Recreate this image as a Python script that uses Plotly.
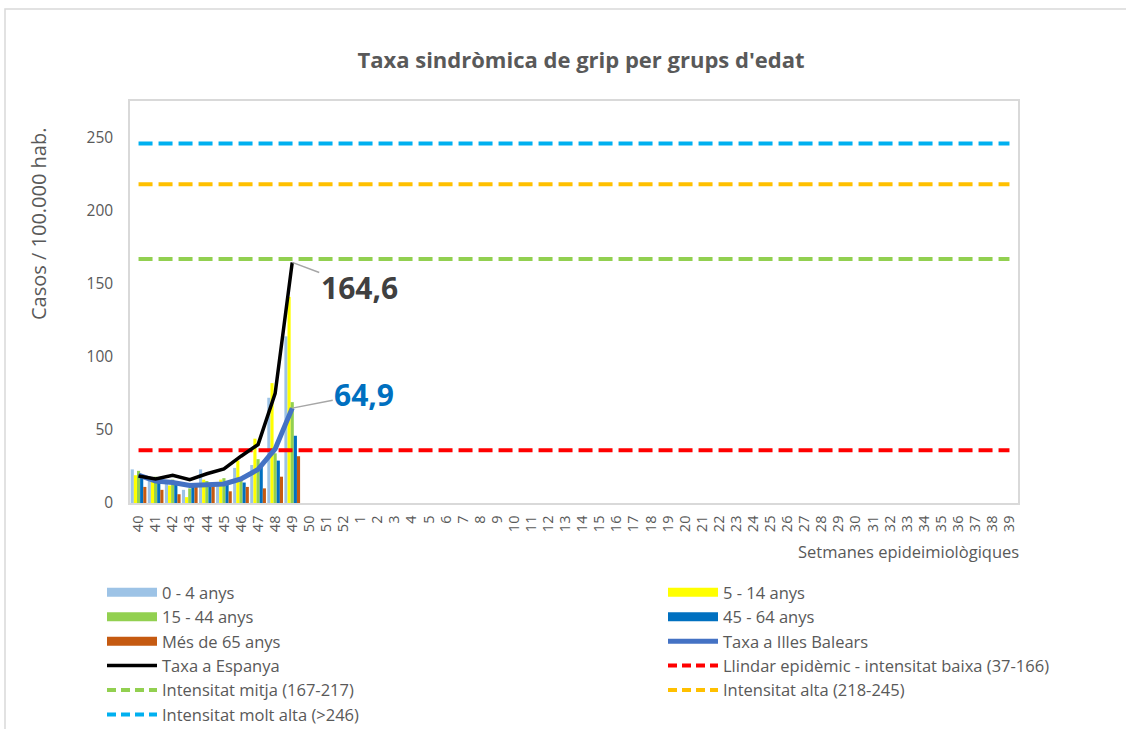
import plotly.graph_objects as go

# ---------------- data ----------------
weeks = [str(w) for w in list(range(40, 53)) + list(range(1, 40))]

age_0_4   = [23, 17, 13, 9, 23, 14, 24, 26, 72, 114]
age_5_14  = [19, 16, 12, 4, 16, 16, 29, 44, 82, 141]
age_15_44 = [22, 18, 16, 10, 15, 17, 17, 30, 34, 69]
age_45_64 = [18, 15, 14, 13, 11, 14, 14, 26, 29, 46]
age_65    = [11, 9, 6, 12, 13, 8, 11, 10, 18, 32]

taxa_balears = [19, 15, 14, 12, 12.5, 13, 16.5, 23, 37, 64.9]
taxa_espanya = [18.5, 16.5, 19, 16, 20, 23.3, 32, 40, 75, 164.6]

llindar_baixa = 36
llindar_mitja = 167
llindar_alta = 218
llindar_molt_alta = 246

bar_names = ["0 - 4 anys", "5 - 14 anys", "15 - 44 anys", "45 - 64 anys", "Més de 65 anys"]
bar_values = [age_0_4, age_5_14, age_15_44, age_45_64, age_65]
bar_colors = ["#9DC3E6", "#FFFF00", "#92D050", "#0070C0", "#C55A11"]

FONT = "Open Sans"
GRAY = "#595959"

fig = go.Figure()

n_data = len(age_0_4)
for name, vals, col in zip(bar_names, bar_values, bar_colors):
    fig.add_trace(go.Bar(x=weeks[:n_data], y=vals, name=name, marker_color=col,
                         marker_line_width=0, showlegend=False))

# threshold lines
thr = [
    (llindar_baixa, "#FF0000", "Llindar epidèmic - intensitat baixa (37-166)"),
    (llindar_mitja, "#92D050", "Intensitat mitja (167-217)"),
    (llindar_alta, "#FFC000", "Intensitat alta (218-245)"),
    (llindar_molt_alta, "#00B0F0", "Intensitat molt alta (>246)"),
]
for val, col, name in thr:
    fig.add_trace(go.Scatter(x=weeks, y=[val] * len(weeks), mode="lines", name=name,
                             line=dict(color=col, width=4, dash="14px,6px"),
                             showlegend=False))

fig.add_trace(go.Scatter(x=weeks[:n_data], y=taxa_balears, mode="lines", name="Taxa a Illes Balears",
                         line=dict(color="#4472C4", width=5), showlegend=False))
fig.add_trace(go.Scatter(x=weeks[:n_data], y=taxa_espanya, mode="lines", name="Taxa a Espanya",
                         line=dict(color="#000000", width=3.5), showlegend=False))

# legend entries (two columns)
left_col = [("0 - 4 anys", "#9DC3E6", 9, None),
            ("15 - 44 anys", "#92D050", 9, None),
            ("Més de 65 anys", "#C55A11", 9, None),
            ("Taxa a Espanya", "#000000", 3.5, None),
            ("Intensitat mitja (167-217)", "#92D050", 4, "9px,5px"),
            ("Intensitat molt alta (>246)", "#00B0F0", 4, "9px,5px")]
right_col = [("5 - 14 anys", "#FFFF00", 9, None),
             ("45 - 64 anys", "#0070C0", 9, None),
             ("Taxa a Illes Balears", "#4472C4", 5, None),
             ("Llindar epidèmic - intensitat baixa (37-166)", "#FF0000", 4, "9px,5px"),
             ("Intensitat alta (218-245)", "#FFC000", 4, "9px,5px")]
for lg, items in (("legend", left_col), ("legend2", right_col)):
    for name, col, w, dash in items:
        fig.add_trace(go.Scatter(x=[None], y=[None], mode="lines", name=name,
                                 line=dict(color=col, width=w, dash=dash or "solid"),
                                 legend=lg, showlegend=True, hoverinfo="skip"))

W, H = 1126, 729
L, R, T, B = 130, 108, 101, 226
pw, ph = W - L - R, H - T - B

def px(x):
    return (x - L) / pw

def py(y):
    return (H - B - y) / ph

leg_common = dict(orientation="v", font=dict(family=FONT, size=16.5, color=GRAY),
                  bgcolor="rgba(0,0,0,0)", itemwidth=50, tracegroupgap=0,
                  xanchor="left", yanchor="top", traceorder="normal")

idx49 = weeks.index("49")

fig.update_layout(
    width=W, height=H,
    margin=dict(l=L, r=R, t=T, b=B, autoexpand=False),
    paper_bgcolor="white", plot_bgcolor="white",
    barmode="group", bargap=0.08, bargroupgap=0,
    font=dict(family=FONT, color=GRAY),
    title=dict(text="<b>Taxa sindròmica de grip per grups d'edat</b>",
               font=dict(family=FONT, size=22, color=GRAY),
               xref="container", x=581 / W, xanchor="center",
               yref="container", y=1 - 60 / H, yanchor="middle"),
    legend=dict(x=px(102), y=py(575), **leg_common),
    legend2=dict(x=px(663), y=py(575), **leg_common),
    xaxis=dict(type="category", categoryorder="array", categoryarray=weeks,
               tickmode="array", tickvals=weeks, ticktext=weeks,
               range=[-0.5, len(weeks) - 0.5],
               tickangle=-90, tickfont=dict(family=FONT, size=14.5, color=GRAY),
               showline=True, linecolor="#D9D9D9", linewidth=1.5, mirror=True,
               showgrid=False, zeroline=False,
               ticks="outside", ticklen=5, tickcolor="rgba(0,0,0,0)"),
    yaxis=dict(range=[0, 275], tickvals=[0, 50, 100, 150, 200, 250],
               tickfont=dict(family=FONT, size=15.5, color=GRAY),
               showline=True, linecolor="#D9D9D9", linewidth=1.5, mirror=True,
               showgrid=False, zeroline=False,
               ticks="outside", ticklen=12, tickcolor="rgba(0,0,0,0)"),
    shapes=[dict(type="rect", xref="paper", yref="paper",
                 x0=px(5), x1=px(1200), y0=py(800), y1=py(9),
                 line=dict(color="#D9D9D9", width=1.5), fillcolor="rgba(0,0,0,0)",
                 layer="below")],
    annotations=[
        dict(text="Casos / 100.000 hab.", xref="paper", yref="paper",
             x=px(38), y=py(224), xanchor="center", yanchor="middle",
             textangle=-90, showarrow=False,
             font=dict(family=FONT, size=20, color=GRAY)),
        dict(text="Setmanes epideimiològiques", xref="paper", yref="paper",
             x=px(1021), y=py(551), xanchor="right", yanchor="middle", showarrow=False,
             font=dict(family=FONT, size=16.5, color=GRAY)),
        dict(text="<b>164,6</b>", x=idx49, y=taxa_espanya[-1],
             ax=67, ay=25, showarrow=True, arrowhead=0, arrowwidth=1.5, arrowcolor="#A6A6A6",
             font=dict(family=FONT, size=30, color="#404040")),
        dict(text="<b>64,9</b>", x=idx49, y=taxa_balears[-1],
             ax=72, ay=-14, showarrow=True, arrowhead=0, arrowwidth=1.5, arrowcolor="#A6A6A6",
             font=dict(family=FONT, size=30, color="#0070C0")),
    ],
)

fig.write_html("out.html", config={"displayModeBar": False},
               post_script="document.body.style.margin='0px';")
